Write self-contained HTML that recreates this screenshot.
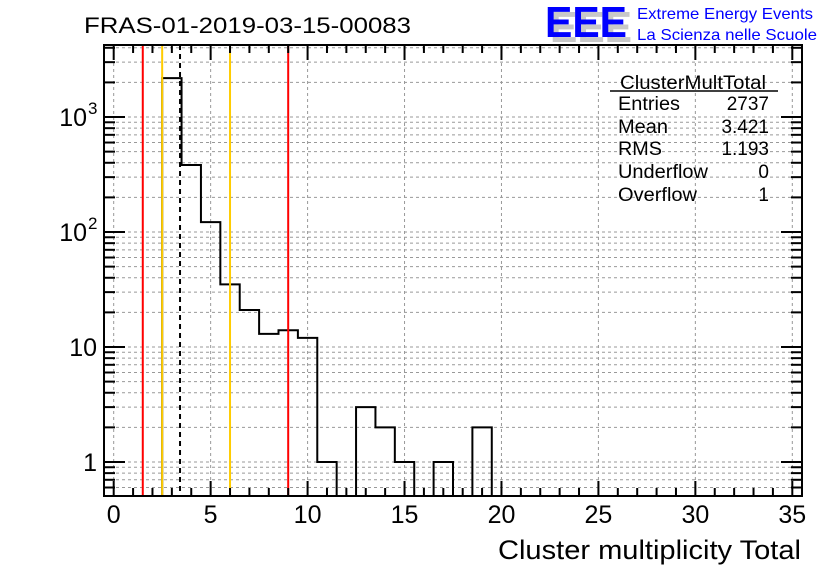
<!DOCTYPE html>
<html><head><meta charset="utf-8"><style>
body{margin:0;background:#fff;}
svg text{font-family:"Liberation Sans",sans-serif;}
</style></head><body>
<svg id="c" width="836" height="572" xmlns="http://www.w3.org/2000/svg">
<rect width="836" height="572" fill="#fff"/>
<text x="84" y="33" font-size="22" textLength="327" lengthAdjust="spacingAndGlyphs">FRAS-01-2019-03-15-00083</text>
<g>
<text x="550" y="42" font-size="44" font-weight="bold" fill="#c8c8c8" textLength="82" lengthAdjust="spacingAndGlyphs">EEE</text>
<text x="545" y="37" font-size="44" font-weight="bold" fill="#0000ff" textLength="82" lengthAdjust="spacingAndGlyphs">EEE</text>
<text x="637" y="19" font-size="16" fill="#0000ff" textLength="176" lengthAdjust="spacingAndGlyphs">Extreme Energy Events</text>
<text x="637" y="40" font-size="16" fill="#0000ff" textLength="180" lengthAdjust="spacingAndGlyphs">La Scienza nelle Scuole</text>
</g>
<g id="grid"></g>
<g id="marks"></g>
<g id="axes"></g>
<g font-size="19">
<text x="620" y="89" textLength="146" lengthAdjust="spacingAndGlyphs">ClusterMultTotal</text>
<line x1="610" y1="91" x2="778" y2="91" stroke="#000" stroke-width="1.5"/>
<text x="618" y="110" textLength="62" lengthAdjust="spacingAndGlyphs">Entries</text><text x="769" y="110" text-anchor="end">2737</text>
<text x="618" y="133" textLength="50" lengthAdjust="spacingAndGlyphs">Mean</text><text x="769" y="133" text-anchor="end">3.421</text>
<text x="618" y="155" textLength="44" lengthAdjust="spacingAndGlyphs">RMS</text><text x="769" y="155" text-anchor="end">1.193</text>
<text x="618" y="178" textLength="90" lengthAdjust="spacingAndGlyphs">Underflow</text><text x="769" y="178" text-anchor="end">0</text>
<text x="618" y="201" textLength="79" lengthAdjust="spacingAndGlyphs">Overflow</text><text x="769" y="201" text-anchor="end">1</text>
</g>
<text x="801" y="559" font-size="27" text-anchor="end" textLength="303" lengthAdjust="spacingAndGlyphs">Cluster multiplicity Total</text>
</svg>
<script>
const binCenters=[3,4,5,6,7,8,9,10,11,12,13,14,15,16,17,18,19];
const binCounts=[2180,383,122,35,21,13,14,12,1,0,3,2,1,0,1,0,2];
const xTicks=[0,5,10,15,20,25,30,35];
const vlinesRed=[1.5,9];
const vlinesYellow=[2.5,6];
const meanLine=[3.421];
const L=104,R=802,T=45,B=496,X0=-0.5,X1=35.5,YMIN=0.506,YMAX=4230;
const sx=v=>L+(v-X0)/(X1-X0)*(R-L);
const sy=v=>B-(Math.log10(v)-Math.log10(YMIN))/(Math.log10(YMAX)-Math.log10(YMIN))*(B-T);
const NS="http://www.w3.org/2000/svg";
function mk(p,tag,at){const e=document.createElementNS(NS,tag);for(const k in at)e.setAttribute(k,at[k]);p.appendChild(e);return e;}
const grid=document.getElementById('grid'),marks=document.getElementById('marks'),axes=document.getElementById('axes');
for(const t of xTicks){const l=mk(grid,'line',{x1:sx(t),x2:sx(t),y1:T,y2:B,stroke:'#999','stroke-dasharray':'3,3'});

}
for(let d=-1;d<=3;d++)for(let m=1;m<10;m++){const v=m*Math.pow(10,d);if(v<YMIN||v>YMAX)continue;const y=sy(v);
const l=mk(grid,'line',{x1:L,x2:R,y1:y,y2:y,stroke:'#999','stroke-dasharray':'3,3'});


const t1=mk(axes,'line',{x1:L,x2:L+(m==1?21:11),y1:y,y2:y,stroke:'#000','stroke-width':2});


const t2=mk(axes,'line',{x1:R,x2:R-(m==1?21:11),y1:y,y2:y,stroke:'#000','stroke-width':2});

}
let d='';
binCenters.forEach((c,i)=>{const x0=sx(c-0.5),x1=sx(c+0.5);const y=binCounts[i]>0?sy(binCounts[i]):B;
d+=(i==0?'M'+x0+','+B:'')+' L'+x0+','+y+' L'+x1+','+y;});
d+=' L'+sx(binCenters[binCenters.length-1]+0.5)+','+B;
const h=mk(marks,'path',{d:d,fill:'none',stroke:'#000','stroke-width':2});


for(const v of vlinesRed){const l=mk(marks,'line',{x1:sx(v),x2:sx(v),y1:T,y2:B,stroke:'#ff0000','stroke-width':2});

}
for(const v of vlinesYellow){const l=mk(marks,'line',{x1:sx(v),x2:sx(v),y1:T,y2:B,stroke:'#ffcc00','stroke-width':2});

}
for(const v of meanLine){const l=mk(marks,'line',{x1:sx(v),x2:sx(v),y1:T,y2:B,stroke:'#000','stroke-width':2,'stroke-dasharray':'5,4'});

}
const f=mk(axes,'rect',{x:L,y:T,width:R-L,height:B-T,fill:'none',stroke:'#000','stroke-width':2});


for(let v=0;v<=35;v++){const x=sx(v);const maj=v%5==0;const len=maj?15:8;
const a=mk(axes,'line',{x1:x,x2:x,y1:B,y2:B-len,stroke:'#000','stroke-width':2});


const b=mk(axes,'line',{x1:x,x2:x,y1:T,y2:T+len,stroke:'#000','stroke-width':2});

}
for(const t of xTicks){const tx=mk(axes,'text',{x:sx(t),y:523,'font-size':25,'text-anchor':'middle'});tx.textContent=t;

}
const yl=[[1,'1'],[10,'10'],[100,'10','2'],[1000,'10','3']];
for(const [v,b,e] of yl){const tx=mk(axes,'text',{x:e?87:97,y:sy(v)+9,'font-size':25,'text-anchor':'end'});tx.textContent=b;


if(e){const s=mk(axes,'text',{x:88,y:sy(v)-3,'font-size':17});s.textContent=e;

}}
</script>
</body></html>
